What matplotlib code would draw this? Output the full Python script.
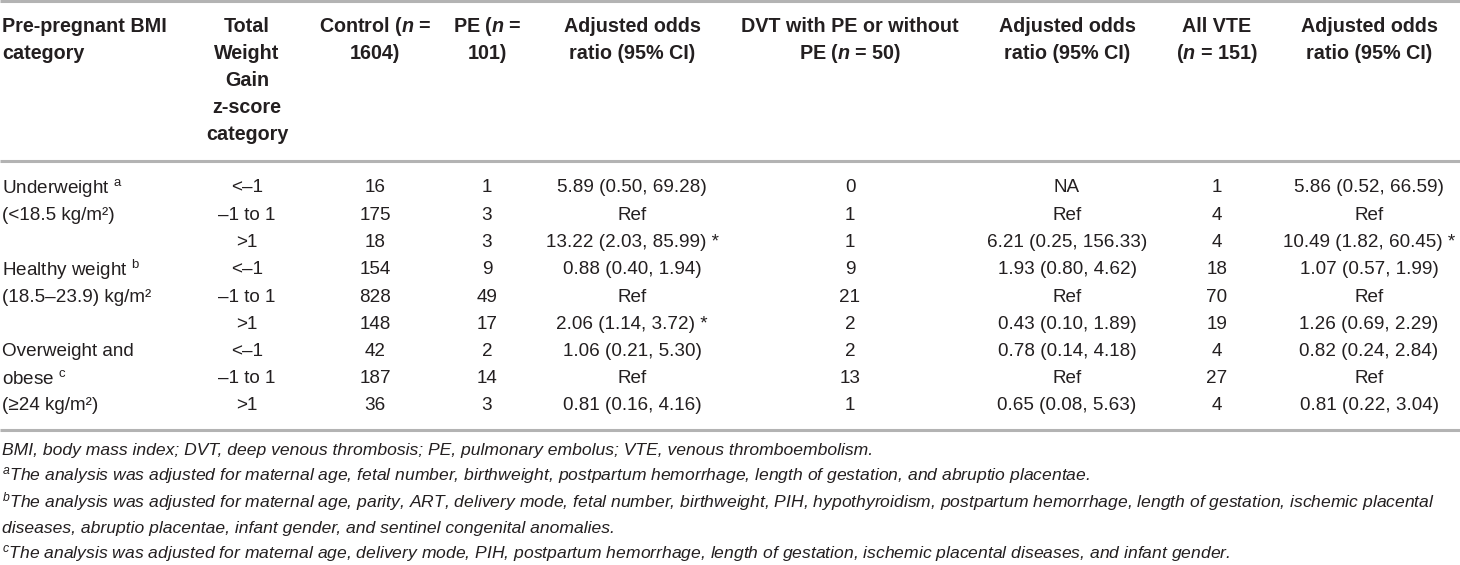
import matplotlib
matplotlib.use("Agg")
import matplotlib.pyplot as plt

plt.rcParams['font.family'] = ['Liberation Sans', 'DejaVu Sans']
plt.rcParams['mathtext.fontset'] = 'custom'
plt.rcParams['mathtext.rm'] = 'Liberation Sans'
plt.rcParams['mathtext.it'] = 'Liberation Sans:italic'
plt.rcParams['mathtext.bf'] = 'Liberation Sans:bold:italic'

# table content
headers = [
    "Pre-pregnant BMI\ncategory",
    "Total\nWeight\nGain\nz-score\ncategory",
    "Control ($\\mathbf{n}$ =\n1604)",
    "PE ($\\mathbf{n}$ =\n101)",
    "Adjusted odds\nratio (95% CI)",
    "DVT with PE or without\nPE ($\\mathbf{n}$ = 50)",
    "Adjusted odds\nratio (95% CI)",
    "All VTE\n($\\mathbf{n}$ = 151)",
    "Adjusted odds\nratio (95% CI)",
]
bmi_labels = [
    "Underweight $^{\\mathrm{a}}$", "(<18.5 kg/m\u00b2)", "",
    "Healthy weight $^{\\mathrm{b}}$", "(18.5\u201323.9) kg/m\u00b2", "",
    "Overweight and", "obese $^{\\mathrm{c}}$", "(\u226524 kg/m\u00b2)",
]
wg_cat = ["<\u20131", "\u20131 to 1", ">1"] * 3
control = [16, 175, 18, 154, 828, 148, 42, 187, 36]
pe = [1, 3, 3, 9, 49, 17, 2, 14, 3]
or_pe = ["5.89 (0.50, 69.28)", "Ref", "13.22 (2.03, 85.99) *",
         "0.88 (0.40, 1.94)", "Ref", "2.06 (1.14, 3.72) *",
         "1.06 (0.21, 5.30)", "Ref", "0.81 (0.16, 4.16)"]
dvt = [0, 1, 1, 9, 21, 2, 2, 13, 1]
or_dvt = ["NA", "Ref", "6.21 (0.25, 156.33)",
          "1.93 (0.80, 4.62)", "Ref", "0.43 (0.10, 1.89)",
          "0.78 (0.14, 4.18)", "Ref", "0.65 (0.08, 5.63)"]
vte = [1, 4, 4, 18, 70, 19, 4, 27, 4]
or_vte = ["5.86 (0.52, 66.59)", "Ref", "10.49 (1.82, 60.45) *",
          "1.07 (0.57, 1.99)", "Ref", "1.26 (0.69, 2.29)",
          "0.82 (0.24, 2.84)", "Ref", "0.81 (0.22, 3.04)"]
footnotes = [
    "BMI, body mass index; DVT, deep venous thrombosis; PE, pulmonary embolus; VTE, venous thromboembolism.",
    "$^{\\mathit{a}}$The analysis was adjusted for maternal age, fetal number, birthweight, postpartum hemorrhage, length of gestation, and abruptio placentae.",
    "$^{\\mathit{b}}$The analysis was adjusted for maternal age, parity, ART, delivery mode, fetal number, birthweight, PIH, hypothyroidism, postpartum hemorrhage, length of gestation, ischemic placental",
    "diseases, abruptio placentae, infant gender, and sentinel congenital anomalies.",
    "$^{\\mathit{c}}$The analysis was adjusted for maternal age, delivery mode, PIH, postpartum hemorrhage, length of gestation, ischemic placental diseases, and infant gender.",
]

col_x = [2, 247, 375, 487, 632, 850, 1067, 1217, 1369]
txt = '#231f20'
rule = '#b3b3b3'

fig = plt.figure(figsize=(14.6, 5.65), dpi=100)
ax = fig.add_axes([0, 0, 1, 1])
ax.set_xlim(0, 1460)
ax.set_ylim(565, 0)
ax.axis('off')

# rules
for y in (1, 161, 430):
    ax.plot([0, 1460], [y, y], color=rule, lw=2.2, solid_capstyle='butt')

# header
for i, h in enumerate(headers):
    for j, line in enumerate(h.split("\n")):
        ax.text(col_x[i], 27 + 26.8 * j, line, ha='left' if i == 0 else 'center',
                va='center', fontsize=14.2, fontweight='bold', color=txt)

# body
columns = [bmi_labels, wg_cat, control, pe, or_pe, dvt, or_dvt, vte, or_vte]
for r in range(len(control)):
    y = 188 + 27.25 * r
    for i, col in enumerate(columns):
        ax.text(col_x[i], y, str(col[r]), ha='left' if i == 0 else 'center',
                va='center', fontsize=13.6, color=txt)

# footnotes
for k, note in enumerate(footnotes):
    ax.text(2, 450 + 26 * k, note, ha='left', va='center', fontsize=12.6,
            style='italic', color=txt)

fig.savefig("out.png", dpi=100)
